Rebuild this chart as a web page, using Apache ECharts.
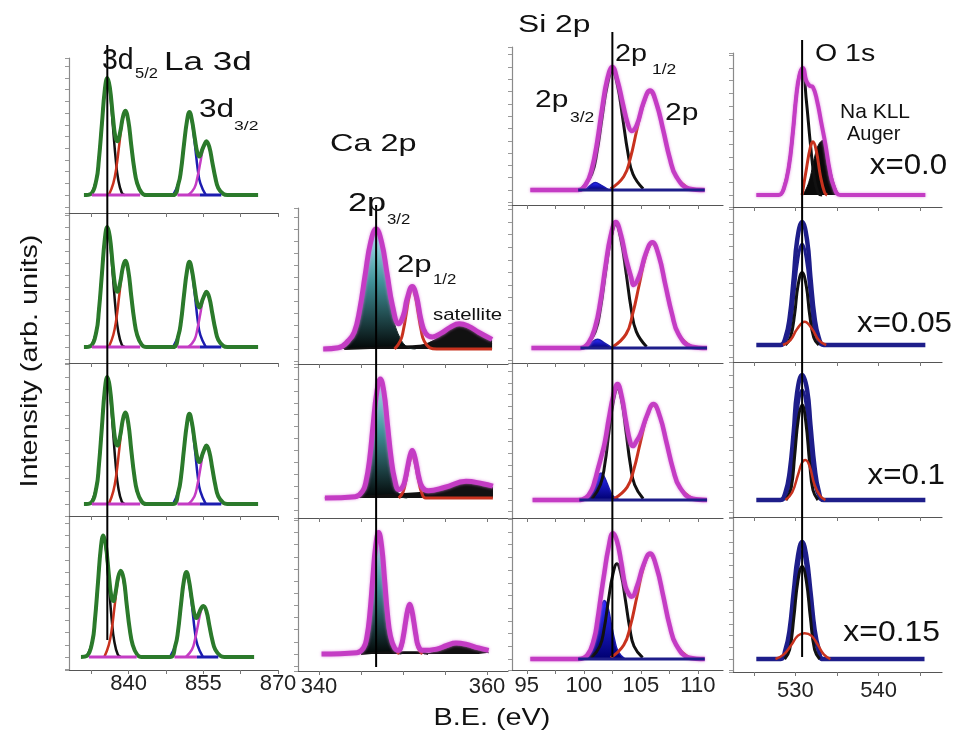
<!DOCTYPE html>
<html>
<head>
<meta charset="utf-8">
<script src="https://cdn.jsdelivr.net/npm/echarts@6/dist/echarts.min.js"></script>
<style>
html,body{margin:0;padding:0;background:#fff;}
#chart{width:957px;height:745px;}
</style>
</head>
<body>
<div id="chart"></div>
<script>
// ---- tick values of the four columns ----
var laTicks = [832.5, 840, 847.5, 855, 862.5, 870];
var laLabels = [840, 855, 870];
var caTicks = [340, 345, 350, 355, 360];
var caLabels = [340, 360];
var siTicks = [95, 97.5, 100, 102.5, 105, 107.5, 110];
var siLabels = [95, 100, 105, 110];
var oTicks = [525, 530, 535, 540, 545];
var oLabels = [530, 540];

// reference lines (B.E. in eV)
var laLineX = 835.7, caLineX = 346.8, siLineX = 102.5, oLineX = 530.8;

// ---- La 3d, rows x=0.0 .. 0.1 (same fit) ----
var la1Env = [[831,0],[832.4,0.01],[833.5,0.13],[834.0,0.3],[834.6,0.6],[835.2,0.9],[835.7,1.0],[836.2,0.92],[836.8,0.68],[837.3,0.5],[837.7,0.46],[838.3,0.54],[838.8,0.66],[839.3,0.72],[839.9,0.64],[840.5,0.43],[841.1,0.23],[841.7,0.1],[842.6,0.02],[843.5,0],[848.9,0],[850,0.1],[850.5,0.21],[851.1,0.43],[851.7,0.63],[852.2,0.71],[852.7,0.64],[853.3,0.48],[853.8,0.36],[854.2,0.33],[854.8,0.39],[855.3,0.44],[855.6,0.46],[856.2,0.41],[856.8,0.28],[857.4,0.15],[858,0.06],[859,0.01],[859.8,0],[866,0]];
var la1Black = [[832.4,0],[833.5,0.13],[834.0,0.3],[834.6,0.6],[835.2,0.9],[835.7,1.0],[836.2,0.9],[836.8,0.6],[837.4,0.3],[837.9,0.13],[838.6,0.02],[839.2,0]];
var la1Red = [[836,0],[836.9,0.1],[837.5,0.23],[838.1,0.43],[838.7,0.63],[839.3,0.71],[839.9,0.63],[840.5,0.43],[841.1,0.23],[841.7,0.1],[842.6,0.02],[843.3,0]];
var la1Blue = [[848.9,0],[850,0.1],[850.5,0.21],[851.1,0.43],[851.7,0.63],[852.2,0.71],[852.7,0.63],[853.3,0.43],[853.9,0.21],[854.4,0.1],[855.5,0]];
var la1Mag = [[852,0],[853.2,0.06],[853.8,0.15],[854.4,0.28],[855.0,0.41],[855.6,0.46],[856.2,0.41],[856.8,0.28],[857.4,0.15],[858,0.06],[859.2,0]];
var la1MagBase = [[832.6,0],[842.3,0],[846,'-'],[849.8,0],[854.3,0]];
var la1BlueBase = [[854.3,0],[858.6,0]];

// ---- La 3d, x=0.15 ----
var la4Env = [[830.4,0],[831.6,0.01],[832.7,0.13],[833.2,0.3],[833.8,0.6],[834.4,0.9],[834.9,1.0],[835.4,0.92],[836.0,0.68],[836.5,0.5],[836.9,0.46],[837.4,0.54],[837.9,0.66],[838.4,0.71],[839.0,0.64],[839.6,0.43],[840.2,0.23],[840.8,0.1],[841.7,0.02],[842.6,0],[848.3,0],[849.4,0.1],[849.9,0.21],[850.5,0.43],[851.1,0.63],[851.6,0.7],[852.1,0.63],[852.7,0.47],[853.2,0.35],[853.6,0.32],[854.2,0.37],[854.7,0.41],[855.0,0.42],[855.6,0.38],[856.2,0.26],[856.8,0.14],[857.4,0.06],[858.4,0.01],[859.2,0],[865.2,0]];
var la4Black = [[831.6,0],[832.7,0.13],[833.2,0.3],[833.8,0.6],[834.4,0.9],[834.9,1.0],[835.4,0.9],[836.0,0.6],[836.6,0.3],[837.1,0.13],[837.8,0.02],[838.4,0]];
var la4Red = [[835.1,0],[836.0,0.1],[836.6,0.23],[837.2,0.43],[837.8,0.62],[838.4,0.7],[839.0,0.62],[839.6,0.43],[840.2,0.23],[840.8,0.1],[841.7,0.02],[842.4,0]];
var la4Blue = [[848.3,0],[849.4,0.1],[849.9,0.21],[850.5,0.43],[851.1,0.62],[851.6,0.7],[852.1,0.62],[852.7,0.43],[853.3,0.21],[853.8,0.1],[854.9,0]];
var la4Mag = [[851.5,0],[852.7,0.06],[853.3,0.14],[853.9,0.26],[854.5,0.38],[855.0,0.42],[855.6,0.38],[856.2,0.26],[856.8,0.14],[857.4,0.06],[858.6,0]];
var la4MagBase = [[832,0],[841.6,0],[845,'-'],[849.2,0],[853.7,0]];
var la4BlueBase = [[853.7,0],[858,0]];

// ---- Ca 2p ----
var caAEnv = [[340.5,0],[342.3,0.01],[343.5,0.07],[344.2,0.14],[344.85,0.33],[345.5,0.62],[346.15,0.89],[346.8,1.0],[347.45,0.89],[348.1,0.63],[348.75,0.36],[349.5,0.21],[350.05,0.28],[350.5,0.42],[351.1,0.52],[351.6,0.44],[352.15,0.24],[352.7,0.13],[353.5,0.1],[354.5,0.13],[355.6,0.18],[356.7,0.21],[357.8,0.19],[359,0.14],[360.6,0.08]];
var caAPeak = [[341.5,0],[342.9,0.01],[344.2,0.13],[344.85,0.32],[345.5,0.61],[346.15,0.88],[346.8,1.0],[347.45,0.88],[348.1,0.61],[348.75,0.32],[349.4,0.13],[350.7,0.01],[351.5,0]];
var caARed = [[349,0],[349.7,0.07],[350.05,0.16],[350.4,0.3],[350.75,0.44],[351.1,0.5],[351.45,0.44],[351.8,0.3],[352.15,0.16],[352.5,0.07],[353.2,0.01],[354,0],[360.6,0]];
var caABack = [[343,0],[350,0.02],[355,0.04],[360.6,0.05]];
var caASat = [[351.5,0.02],[353,0.05],[354.5,0.11],[355.6,0.17],[356.7,0.2],[357.8,0.18],[359,0.13],[360.6,0.07]];

var caBEnv = [[340.7,0],[344.3,0.01],[345.2,0.06],[345.6,0.14],[346.03,0.33],[346.45,0.62],[346.88,0.89],[347.3,1.0],[347.73,0.89],[348.15,0.62],[348.58,0.34],[349,0.16],[349.5,0.07],[350,0.1],[350.3,0.17],[350.55,0.26],[350.85,0.36],[351.1,0.4],[351.35,0.36],[351.65,0.26],[351.9,0.17],[352.3,0.09],[353,0.06],[355,0.09],[357.5,0.14],[359.5,0.12],[360.7,0.1]];
var caBPeak = [[344,0],[344.75,0.01],[345.6,0.13],[346.03,0.32],[346.45,0.61],[346.88,0.88],[347.3,1.0],[347.73,0.88],[348.15,0.61],[348.58,0.32],[349,0.13],[349.85,0.01],[350.5,0]];
var caBRed = [[349.5,0],[350,0.05],[350.3,0.13],[350.55,0.22],[350.85,0.32],[351.1,0.36],[351.35,0.32],[351.65,0.22],[351.9,0.13],[352.2,0.05],[352.7,0],[360.7,0]];
var caBBack = [[340.7,0],[347,0.02],[354,0.05],[360.7,0.08]];
var caBSat = [[352.5,0.04],[354,0.07],[355.5,0.11],[357.5,0.14],[359,0.12],[360.7,0.09]];

var caCEnv = [[340.3,0],[344.5,0.01],[345.3,0.05],[345.7,0.14],[346.05,0.33],[346.4,0.62],[346.75,0.89],[347.1,1.0],[347.45,0.89],[347.8,0.62],[348.15,0.33],[348.5,0.15],[349,0.05],[349.5,0.03],[349.8,0.07],[350.05,0.15],[350.3,0.26],[350.55,0.36],[350.8,0.41],[351.05,0.36],[351.3,0.26],[351.55,0.15],[351.8,0.07],[352.3,0.03],[354,0.04],[355.2,0.07],[356.3,0.09],[357.5,0.08],[359,0.05],[360.2,0.03]];
var caCPeak = [[344.3,0],[345,0.01],[345.7,0.13],[346.05,0.32],[346.4,0.61],[346.75,0.88],[347.1,1.0],[347.45,0.88],[347.8,0.61],[348.15,0.32],[348.5,0.13],[349.2,0.01],[349.8,0]];
var caCRed = [[349.3,0],[349.8,0.05],[350.05,0.13],[350.3,0.24],[350.55,0.34],[350.8,0.39],[351.05,0.34],[351.3,0.24],[351.55,0.13],[351.8,0.05],[352.3,0]];
var caCBack = [[345,0],[348,0.015],[352,0.015],[353,0]];
var caCSat = [[352.5,0],[354,0.02],[355.2,0.05],[356.3,0.07],[357.5,0.06],[359,0.03],[360.2,0.01]];

// ---- Si 2p ----
var si1Env = [[95.3,0],[99.5,0],[100.2,0.05],[100.7,0.17],[101.15,0.38],[101.6,0.66],[102.05,0.9],[102.5,1.0],[102.95,0.89],[103.4,0.71],[103.85,0.54],[104.2,0.48],[104.65,0.53],[105.23,0.71],[105.8,0.81],[106.38,0.7],[106.95,0.49],[107.53,0.26],[108.1,0.11],[109.25,0.01],[110.6,0]];
var si1Black = [[99.8,0.01],[100.7,0.13],[101.15,0.31],[101.6,0.59],[102.05,0.85],[102.5,0.97],[102.95,0.85],[103.4,0.59],[103.85,0.31],[104.3,0.13],[105.2,0.01]];
var si1Red = [[102.35,0.01],[103.5,0.11],[104.08,0.26],[104.65,0.49],[105.23,0.7],[105.8,0.8],[106.38,0.7],[106.95,0.49],[107.53,0.26],[108.1,0.11],[109.25,0.01]];
var si1Blue = [[100.1,0],[100.6,0.04],[101,0.06],[101.5,0.04],[102.2,0]];
var si1Base = [[99.5,0],[110.6,0]];

var si2Env = [[95.4,0],[99.7,0],[100.4,0.04],[101.0,0.17],[101.45,0.37],[101.9,0.65],[102.35,0.89],[102.8,1.0],[103.25,0.9],[103.7,0.71],[104.15,0.56],[104.35,0.5],[104.85,0.57],[105.43,0.75],[106,0.84],[106.58,0.73],[107.15,0.5],[107.73,0.27],[108.3,0.11],[109.45,0.01],[110.8,0]];
var si2Black = [[100.1,0.01],[101.0,0.13],[101.45,0.31],[101.9,0.6],[102.35,0.86],[102.8,0.98],[103.25,0.86],[103.7,0.6],[104.15,0.31],[104.6,0.13],[105.5,0.01]];
var si2Red = [[102.55,0.01],[103.7,0.11],[104.28,0.27],[104.85,0.5],[105.43,0.73],[106,0.83],[106.58,0.73],[107.15,0.5],[107.73,0.27],[108.3,0.11],[109.45,0.01]];
var si2Blue = [[99.9,0],[100.6,0.04],[101.2,0.07],[101.8,0.04],[102.5,0]];
var si2Base = [[99.7,0],[110.8,0]];

var si3Env = [[95.5,0],[99.5,0],[100.2,0.02],[100.7,0.09],[100.95,0.16],[101.22,0.26],[101.5,0.36],[101.83,0.49],[102.2,0.7],[102.58,0.89],[102.95,0.99],[103.33,0.88],[103.7,0.67],[104.08,0.49],[104.3,0.46],[104.6,0.5],[104.95,0.56],[105.53,0.72],[106.1,0.82],[106.68,0.71],[107.25,0.49],[107.83,0.26],[108.4,0.11],[109.55,0.01],[110.8,0]];
var si3Black = [[100.7,0.01],[101.45,0.13],[101.83,0.3],[102.2,0.58],[102.58,0.84],[102.95,0.95],[103.33,0.84],[103.7,0.58],[104.08,0.3],[104.45,0.13],[105.2,0.01]];
var si3Red = [[102.65,0.01],[103.8,0.11],[104.38,0.26],[104.95,0.49],[105.53,0.71],[106.1,0.81],[106.68,0.71],[107.25,0.49],[107.83,0.26],[108.4,0.11],[109.55,0.01]];
var si3Blue = [[99.85,0],[100.4,0.03],[100.7,0.08],[100.95,0.14],[101.22,0.2],[101.5,0.23],[101.78,0.2],[102.05,0.14],[102.3,0.08],[102.6,0.03],[103.15,0]];
var si3Base = [[99.6,0],[110.8,0]];

var si4Env = [[95.3,0],[99.5,0],[100.3,0.03],[100.9,0.16],[101.2,0.31],[101.5,0.5],[101.8,0.68],[102.15,0.87],[102.55,0.99],[102.9,0.93],[103.28,0.76],[103.65,0.57],[104.03,0.5],[104.2,0.49],[104.65,0.57],[105.23,0.74],[105.8,0.83],[106.38,0.72],[106.95,0.5],[107.53,0.26],[108.1,0.11],[109.25,0.01],[110.6,0]];
var si4Black = [[100.65,0.01],[101.4,0.1],[101.78,0.24],[102.15,0.46],[102.53,0.66],[102.9,0.75],[103.28,0.66],[103.65,0.46],[104.03,0.24],[104.4,0.1],[105.15,0.01]];
var si4Red = [[102.35,0.01],[103.5,0.11],[104.08,0.26],[104.65,0.49],[105.23,0.72],[105.8,0.82],[106.38,0.72],[106.95,0.5],[107.53,0.26],[108.1,0.11],[109.25,0.01]];
var si4Blue = [[100,0],[100.6,0.06],[100.9,0.15],[101.2,0.28],[101.5,0.41],[101.8,0.46],[102.1,0.41],[102.4,0.28],[102.7,0.15],[103,0.06],[103.6,0]];
var si4Base = [[99.5,0],[110.6,0]];

// ---- O 1s ----
var o1Env = [[525.3,0],[528,0],[528.6,0.05],[529.2,0.22],[529.7,0.5],[530.1,0.78],[530.5,0.95],[530.9,1.0],[531.3,0.9],[531.7,0.86],[532.1,0.85],[532.6,0.74],[533.1,0.57],[533.6,0.4],[534.1,0.2],[534.6,0.07],[535.4,0],[545.6,0]];
var o1Black = [[528.2,0],[528.6,0.05],[529.2,0.22],[529.7,0.5],[530.1,0.78],[530.5,0.95],[530.85,1.0],[531.3,0.75],[531.8,0.4],[532.3,0.12],[532.8,0.01],[533.2,0]];
var o1Red = [[530.8,0],[531.3,0.2],[531.8,0.38],[532.1,0.42],[532.5,0.35],[533,0.15],[533.5,0.02],[533.8,0]];
var o1Auger = [[530.9,0],[531.6,0.1],[532.3,0.3],[532.8,0.4],[533.3,0.43],[533.8,0.33],[534.4,0.15],[535,0.03],[535.4,0]];

var o2Env = [[525.3,0],[528.2,0],[528.8,0.06],[529.3,0.22],[529.8,0.55],[530.2,0.85],[530.8,1.0],[531.4,0.85],[531.8,0.55],[532.3,0.22],[532.8,0.06],[533.4,0],[545.6,0]];
var o2Navy = [[528.6,0],[529.3,0.12],[529.8,0.4],[530.3,0.7],[530.8,0.82],[531.3,0.7],[531.8,0.4],[532.3,0.12],[533,0]];
var o2Black = [[528.8,0],[529.4,0.06],[529.9,0.25],[530.3,0.48],[530.8,0.59],[531.3,0.48],[531.7,0.25],[532.2,0.06],[532.8,0]];
var o2Red = [[528.5,0],[529.4,0.04],[530.2,0.13],[531.1,0.19],[532,0.13],[532.8,0.04],[533.7,0]];

var o3Env = [[525.3,0],[528.2,0],[528.8,0.06],[529.3,0.22],[529.8,0.55],[530.2,0.86],[530.8,1.0],[531.4,0.88],[531.8,0.6],[532.3,0.26],[532.8,0.07],[533.4,0],[545.6,0]];
var o3Navy = [[528.6,0],[529.3,0.13],[529.8,0.43],[530.3,0.75],[530.8,0.88],[531.3,0.75],[531.8,0.43],[532.3,0.13],[533,0]];
var o3Black = [[528.9,0],[529.5,0.1],[529.9,0.35],[530.35,0.65],[530.8,0.76],[531.25,0.62],[531.7,0.3],[532.1,0.08],[532.7,0]];
var o3Red = [[528.8,0],[529.6,0.06],[530.3,0.2],[530.8,0.3],[531.2,0.32],[531.7,0.27],[532.3,0.12],[533,0.03],[533.6,0]];

var o4Env = [[525.3,0],[528.2,0],[528.8,0.08],[529.3,0.25],[529.8,0.58],[530.3,0.88],[530.8,1.0],[531.3,0.88],[531.8,0.58],[532.3,0.25],[532.8,0.08],[533.3,0],[545.5,0]];
var o4Navy = [[528.4,0],[529.1,0.12],[529.7,0.42],[530.3,0.78],[530.8,0.92],[531.3,0.78],[531.9,0.42],[532.5,0.12],[533.2,0]];
var o4Black = [[528.7,0],[529.3,0.08],[529.8,0.35],[530.3,0.67],[530.8,0.79],[531.3,0.67],[531.8,0.35],[532.3,0.08],[532.9,0]];
var o4Red = [[527.6,0],[528.6,0.04],[529.5,0.12],[530.3,0.2],[531.1,0.22],[531.9,0.2],[532.7,0.12],[533.4,0.04],[534.2,0]];

// ---- styling / layout ----
var FONT = 'Liberation Sans, Arial, sans-serif';
var GREEN = '#2b7a2b', MAG = '#c43cc4', BLACK = '#111111', RED = '#c8321e', BLUE = '#1c1cb0', NAVY = '#1e1e8a';

// lineTop / lineBottom: vertical extent of the reference line (px)
var cols = {
  la: {left: 69, right: 278, min: 828, max: 870, ticks: laTicks, labels: laLabels, lineX: laLineX, margin: 3, lineTop: 45, lineBottom: 640},
  ca: {left: 298, right: 508, min: 337.5, max: 362.5, ticks: caTicks, labels: caLabels, lineX: caLineX, margin: 5, lineTop: 205, lineBottom: 667},
  si: {left: 512, right: 723, min: 93.7, max: 112.2, ticks: siTicks, labels: siLabels, lineX: siLineX, margin: 5, lineTop: 32, lineBottom: 657},
  o: {left: 733, right: 942, min: 522.5, max: 547.6, ticks: oTicks, labels: oLabels, lineX: oLineX, margin: 8, lineTop: 40, lineBottom: 657}
};

var caGrad = new echarts.graphic.LinearGradient(0, 0, 0, 1, [
  {offset: 0, color: '#a6f3f8'}, {offset: 0.45, color: '#3f8f96'}, {offset: 1, color: '#030707'}
]);
var siGrad = new echarts.graphic.LinearGradient(0, 0, 0, 1, [
  {offset: 0, color: '#2d2dff'}, {offset: 1, color: '#000070'}
]);

function laSet(env, black, red, blue, mag, magBase, blueBase) {
  return [
    {d: black, c: BLACK, w: 2.5, z: 2}, {d: red, c: RED, w: 2.5, z: 2},
    {d: blue, c: BLUE, w: 2.5, z: 2}, {d: mag, c: MAG, w: 2.5, z: 2},
    {d: env, c: GREEN, w: 4, z: 3},
    {d: magBase, c: MAG, w: 3, z: 4}, {d: blueBase, c: BLUE, w: 3, z: 4}
  ];
}
function caSet(env, peak, red, back, sat) {
  return [
    {d: peak, c: '#1a2a2a', w: 1, z: 1, fill: caGrad}, {d: back, c: BLACK, w: 2, z: 1, fill: BLACK},
    {d: sat, c: BLACK, w: 1, z: 2, fill: BLACK}, {d: red, c: RED, w: 3, z: 2},
    {d: env, c: MAG, w: 5, z: 3, glow: true}
  ];
}
function siSet(env, black, red, blue, base) {
  return [
    {d: blue, c: BLUE, w: 1.5, z: 2, fill: siGrad}, {d: black, c: BLACK, w: 3, z: 2},
    {d: red, c: RED, w: 3, z: 2}, {d: env, c: MAG, w: 4.5, z: 3, glow: true},
    {d: base, c: NAVY, w: 3, z: 4}
  ];
}
function oSet(env, navy, black, red) {
  return [
    {d: env, c: NAVY, w: 4.5, z: 2}, {d: navy, c: NAVY, w: 3, z: 3},
    {d: black, c: BLACK, w: 3, z: 3}, {d: red, c: RED, w: 2.5, z: 4}
  ];
}

var panels = [
  {col: 'la', top: 58, bottom: 213, y: [-0.153, 1.17], set: laSet(la1Env, la1Black, la1Red, la1Blue, la1Mag, la1MagBase, la1BlueBase)},
  {col: 'la', top: 213, bottom: 363, y: [-0.133, 1.117], set: laSet(la1Env, la1Black, la1Red, la1Blue, la1Mag, la1MagBase, la1BlueBase)},
  {col: 'la', top: 363, bottom: 516, y: [-0.094, 1.11], set: laSet(la1Env, la1Black, la1Red, la1Blue, la1Mag, la1MagBase, la1BlueBase)},
  {col: 'la', top: 516, bottom: 670, y: [-0.107, 1.16], last: true, set: laSet(la4Env, la4Black, la4Red, la4Blue, la4Mag, la4MagBase, la4BlueBase)},

  {col: 'ca', top: 208, bottom: 364, y: [-0.125, 1.175], set: caSet(caAEnv, caAPeak, caARed, caABack, caASat)},
  {col: 'ca', top: 364, bottom: 518, y: [-0.168, 1.126], set: caSet(caBEnv, caBPeak, caBRed, caBBack, caBSat)},
  {col: 'ca', top: 518, bottom: 671, y: [-0.14, 1.12], last: true, set: caSet(caCEnv, caCPeak, caCRed, caCBack, caCSat)},

  {col: 'si', top: 47, bottom: 205, y: [-0.122, 1.163], set: siSet(si1Env, si1Black, si1Red, si1Blue, si1Base)},
  {col: 'si', top: 205, bottom: 363, y: [-0.119, 1.135], set: siSet(si2Env, si2Black, si2Red, si2Blue, si2Base)},
  {col: 'si', top: 363, bottom: 518, y: [-0.154, 1.17], set: siSet(si3Env, si3Black, si3Red, si3Blue, si3Base)},
  {col: 'si', top: 518, bottom: 670, y: [-0.087, 1.11], last: true, set: siSet(si4Env, si4Black, si4Red, si4Blue, si4Base)},

  {col: 'o', top: 53, bottom: 207, y: [-0.094, 1.118], set: [
    {d: o1Auger, c: BLACK, w: 1, z: 1, fill: '#0a0a0a'}, {d: o1Black, c: BLACK, w: 3, z: 2},
    {d: o1Red, c: RED, w: 3, z: 3}, {d: o1Env, c: MAG, w: 4, z: 4, glow: true}
  ]},
  {col: 'o', top: 207, bottom: 362, y: [-0.138, 1.122], set: oSet(o2Env, o2Navy, o2Black, o2Red)},
  {col: 'o', top: 362, bottom: 517, y: [-0.136, 1.104], set: oSet(o3Env, o3Navy, o3Black, o3Red)},
  {col: 'o', top: 517, bottom: 672, y: [-0.111, 1.214], last: true, set: oSet(o4Env, o4Navy, o4Black, o4Red)}
];

var option = {
  animation: false,
  backgroundColor: '#ffffff',
  grid: [], xAxis: [], yAxis: [], series: [], graphic: []
};

panels.forEach(function (p, i) {
  var c = cols[p.col];
  option.grid.push({left: c.left, width: c.right - c.left, top: p.top, height: p.bottom - p.top});
  option.xAxis.push({
    type: 'value', gridIndex: i, min: c.min, max: c.max,
    axisLine: {show: true, onZero: false, lineStyle: {color: '#555', width: 1.2}},
    axisTick: {show: true, customValues: c.ticks, length: 4, lineStyle: {color: '#777'}},
    axisLabel: {show: !!p.last, customValues: c.labels, fontSize: 22, color: '#222', fontFamily: FONT, margin: c.margin},
    splitLine: {show: false}
  });
  option.yAxis.push({
    type: 'value', gridIndex: i, min: p.y[0], max: p.y[1], splitNumber: 9,
    axisLine: {show: true, onZero: false, lineStyle: {color: '#8a8a8a', width: 1.2}},
    axisTick: {show: true, length: 4, lineStyle: {color: '#999'}},
    axisLabel: {show: false}, splitLine: {show: false}
  });
  p.set.forEach(function (cv) {
    var s = {
      type: 'line', xAxisIndex: i, yAxisIndex: i, data: cv.d, smooth: 0.45,
      symbol: 'none', silent: true, z: cv.z, connectNulls: false,
      lineStyle: {color: cv.c, width: cv.w}
    };
    if (cv.glow) { s.lineStyle.shadowBlur = 3; s.lineStyle.shadowColor = 'rgba(220,120,220,0.8)'; }
    if (cv.fill) s.areaStyle = {color: cv.fill, opacity: 1};
    option.series.push(s);
  });
});

// vertical reference line of each column: an invisible overlay axis pair spanning the column
Object.keys(cols).forEach(function (k) {
  var c = cols[k];
  var gi = option.grid.length;
  option.grid.push({left: c.left, width: c.right - c.left, top: c.lineTop, height: c.lineBottom - c.lineTop});
  option.xAxis.push({type: 'value', gridIndex: gi, min: c.min, max: c.max, show: false});
  option.yAxis.push({type: 'value', gridIndex: gi, min: 0, max: 1, show: false});
  option.series.push({
    type: 'line', xAxisIndex: gi, yAxisIndex: gi, data: [[c.lineX, 0], [c.lineX, 1]],
    symbol: 'none', silent: true, z: 10, lineStyle: {color: '#000', width: 2}
  });
});

// ---- text ----
function txt(t, x, y, size, sx, align, rot) {
  return {
    type: 'text', x: x, y: y, scaleX: sx || 1, rotation: rot || 0, z: 100, silent: true,
    style: {text: t, font: size + 'px ' + FONT, fill: '#111', align: align || 'left', verticalAlign: 'middle'}
  };
}
option.graphic = [
  txt('3d', 102, 61, 30, 0.95),
  txt('5/2', 135, 74, 15, 1.1),
  txt('La 3d', 164, 63, 26, 1.35),
  txt('3d', 199, 110, 25, 1.26),
  txt('3/2', 234, 126, 13, 1.35),
  txt('Ca 2p', 330, 144, 24, 1.35),
  txt('2p', 348, 204, 25, 1.37),
  txt('3/2', 387, 220, 14, 1.2),
  txt('2p', 397, 265, 24, 1.3),
  txt('1/2', 433, 280, 14, 1.2),
  txt('satellite', 433, 315, 17, 1.2),
  txt('Si 2p', 518, 26, 23, 1.38),
  txt('2p', 615, 55, 23, 1.25),
  txt('1/2', 652, 70, 14, 1.25),
  txt('2p', 535, 101, 23, 1.3),
  txt('3/2', 570, 118, 14, 1.25),
  txt('2p', 665, 113, 24, 1.25),
  txt('O 1s', 815, 55, 23, 1.24),
  txt('Na KLL', 840, 112, 21, 1.0),
  txt('Auger', 847, 134, 20, 1.0),
  txt('x=0.0', 947, 166, 30, 1.04, 'right'),
  txt('x=0.05', 952, 324, 29, 1.08, 'right'),
  txt('x=0.1', 945, 476, 29, 1.08, 'right'),
  txt('x=0.15', 940, 633, 29, 1.1, 'right'),
  txt('Intensity (arb. units)', 30, 361, 24, 1.2, 'center', Math.PI / 2),
  txt('B.E. (eV)', 492, 718, 24, 1.2, 'center')
];

var myChart = echarts.init(document.getElementById('chart'));
myChart.setOption(option);
</script>
</body>
</html>
